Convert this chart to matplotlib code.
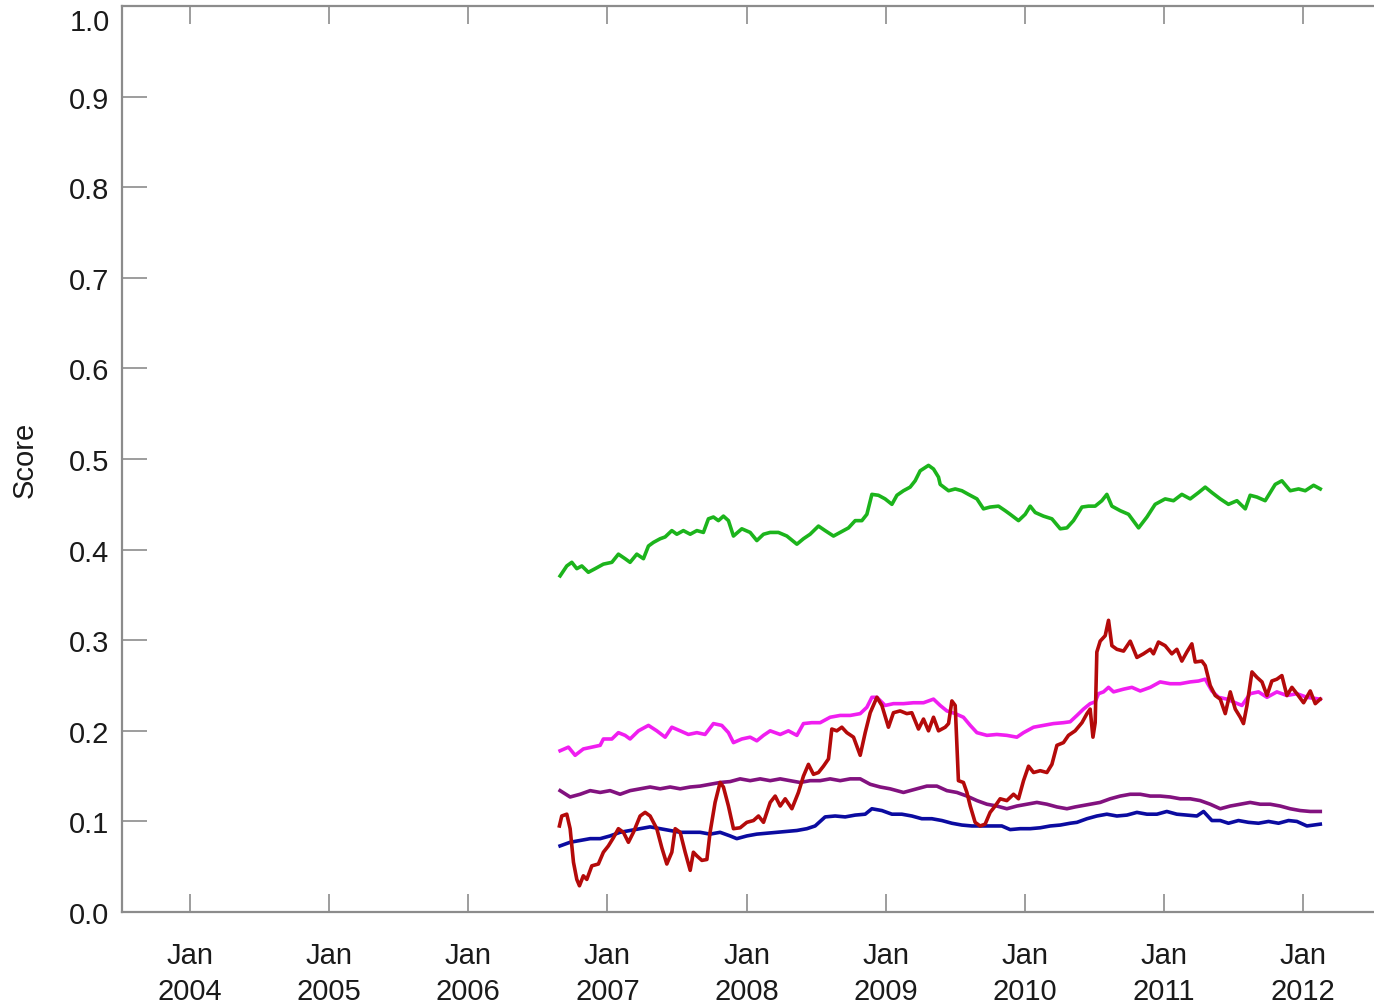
import matplotlib
matplotlib.use("Agg")
import matplotlib.pyplot as plt
from matplotlib.transforms import ScaledTranslation

plt.rcParams["font.family"] = ["Liberation Sans", "DejaVu Sans"]

# Decimal-year time stamps and scores for each series
green_t = [2006.660, 2006.708, 2006.744, 2006.780, 2006.816, 2006.863, 2006.912, 2006.971,
           2007.032, 2007.079, 2007.127, 2007.163, 2007.211, 2007.259, 2007.295, 2007.331,
           2007.379, 2007.415, 2007.463, 2007.499, 2007.546, 2007.595, 2007.643, 2007.690,
           2007.726, 2007.762, 2007.798, 2007.834, 2007.870, 2007.906, 2007.966, 2008.026,
           2008.074, 2008.122, 2008.170, 2008.229, 2008.290, 2008.362, 2008.409, 2008.457,
           2008.517, 2008.565, 2008.625, 2008.673, 2008.733, 2008.781, 2008.829, 2008.865,
           2008.901, 2008.948, 2008.996, 2009.045, 2009.081, 2009.128, 2009.176, 2009.212,
           2009.248, 2009.308, 2009.344, 2009.380, 2009.392, 2009.452, 2009.500, 2009.548,
           2009.595, 2009.656, 2009.703, 2009.751, 2009.811, 2009.859, 2009.895, 2009.955,
           2010.003, 2010.039, 2010.075, 2010.134, 2010.195, 2010.255, 2010.303, 2010.350,
           2010.411, 2010.458, 2010.506, 2010.554, 2010.590, 2010.626, 2010.686, 2010.746,
           2010.818, 2010.878, 2010.937, 2011.009, 2011.069, 2011.129, 2011.189, 2011.249,
           2011.297, 2011.345, 2011.405, 2011.464, 2011.525, 2011.585, 2011.620, 2011.669,
           2011.728, 2011.800, 2011.848, 2011.908, 2011.968, 2012.016, 2012.076, 2012.124]
green_v = [0.371, 0.382, 0.386, 0.379, 0.382, 0.375, 0.379, 0.384,
           0.386, 0.395, 0.390, 0.386, 0.395, 0.390, 0.404, 0.408,
           0.412, 0.414, 0.421, 0.417, 0.421, 0.417, 0.421, 0.419,
           0.434, 0.436, 0.432, 0.437, 0.432, 0.415, 0.423, 0.419,
           0.410, 0.417, 0.419, 0.419, 0.415, 0.406, 0.412, 0.417,
           0.426, 0.421, 0.415, 0.419, 0.424, 0.432, 0.432, 0.439,
           0.461, 0.460, 0.456, 0.450, 0.460, 0.465, 0.469, 0.476,
           0.487, 0.493, 0.489, 0.480, 0.472, 0.465, 0.467, 0.465,
           0.461, 0.456, 0.445, 0.447, 0.448, 0.443, 0.439, 0.432,
           0.439, 0.448, 0.441, 0.437, 0.434, 0.423, 0.424, 0.432,
           0.447, 0.448, 0.448, 0.454, 0.461, 0.448, 0.443, 0.439,
           0.424, 0.436, 0.450, 0.456, 0.454, 0.461, 0.456, 0.463,
           0.469, 0.463, 0.456, 0.450, 0.454, 0.445, 0.460, 0.458,
           0.454, 0.472, 0.476, 0.465, 0.467, 0.465, 0.471, 0.467]

magenta_t = [2006.660, 2006.720, 2006.768, 2006.827, 2006.888, 2006.948, 2006.971, 2007.032,
             2007.079, 2007.127, 2007.163, 2007.223, 2007.295, 2007.355, 2007.415, 2007.463,
             2007.523, 2007.582, 2007.643, 2007.702, 2007.762, 2007.822, 2007.870, 2007.906,
             2007.966, 2008.026, 2008.074, 2008.122, 2008.170, 2008.242, 2008.301, 2008.362,
             2008.409, 2008.469, 2008.529, 2008.601, 2008.673, 2008.745, 2008.817, 2008.865,
             2008.901, 2008.937, 2008.996, 2009.056, 2009.128, 2009.200, 2009.272, 2009.344,
             2009.392, 2009.440, 2009.500, 2009.559, 2009.608, 2009.656, 2009.728, 2009.799,
             2009.871, 2009.943, 2009.991, 2010.063, 2010.134, 2010.206, 2010.278, 2010.326,
             2010.375, 2010.422, 2010.470, 2010.506, 2010.530, 2010.566, 2010.602, 2010.638,
             2010.710, 2010.770, 2010.830, 2010.902, 2010.973, 2011.045, 2011.117, 2011.189,
             2011.249, 2011.297, 2011.345, 2011.393, 2011.453, 2011.513, 2011.561, 2011.620,
             2011.680, 2011.741, 2011.812, 2011.884, 2011.956, 2012.028, 2012.124]
magenta_v = [0.178, 0.182, 0.173, 0.180, 0.182, 0.184, 0.191, 0.191,
             0.198, 0.195, 0.191, 0.200, 0.206, 0.200, 0.193, 0.204,
             0.200, 0.196, 0.198, 0.196, 0.208, 0.206, 0.198, 0.187,
             0.191, 0.193, 0.189, 0.195, 0.200, 0.196, 0.200, 0.195,
             0.208, 0.209, 0.209, 0.215, 0.217, 0.217, 0.219, 0.226,
             0.237, 0.237, 0.228, 0.230, 0.230, 0.231, 0.231, 0.235,
             0.228, 0.222, 0.219, 0.215, 0.206, 0.198, 0.195, 0.196,
             0.195, 0.193, 0.198, 0.204, 0.206, 0.208, 0.209, 0.210,
             0.217, 0.224, 0.230, 0.232, 0.241, 0.243, 0.248, 0.243,
             0.246, 0.248, 0.244, 0.248, 0.254, 0.252, 0.252, 0.254,
             0.255, 0.257, 0.244, 0.237, 0.235, 0.231, 0.228, 0.241,
             0.243, 0.237, 0.243, 0.239, 0.241, 0.237, 0.235]

purple_t = [2006.660, 2006.732, 2006.804, 2006.876, 2006.948, 2007.019, 2007.091, 2007.163,
            2007.235, 2007.307, 2007.379, 2007.451, 2007.523, 2007.595, 2007.666, 2007.738,
            2007.810, 2007.882, 2007.954, 2008.026, 2008.098, 2008.170, 2008.242, 2008.313,
            2008.385, 2008.457, 2008.529, 2008.601, 2008.673, 2008.745, 2008.817, 2008.889,
            2008.961, 2009.032, 2009.128, 2009.224, 2009.296, 2009.368, 2009.440, 2009.512,
            2009.584, 2009.656, 2009.728, 2009.799, 2009.871, 2009.943, 2010.015, 2010.087,
            2010.159, 2010.231, 2010.303, 2010.362, 2010.398, 2010.470, 2010.542, 2010.614,
            2010.686, 2010.758, 2010.830, 2010.902, 2010.973, 2011.045, 2011.117, 2011.189,
            2011.261, 2011.333, 2011.405, 2011.477, 2011.549, 2011.620, 2011.692, 2011.764,
            2011.836, 2011.908, 2011.980, 2012.052, 2012.124]
purple_v = [0.134, 0.127, 0.130, 0.134, 0.132, 0.134, 0.130, 0.134,
            0.136, 0.138, 0.136, 0.138, 0.136, 0.138, 0.139, 0.141,
            0.143, 0.144, 0.147, 0.145, 0.147, 0.145, 0.147, 0.145,
            0.143, 0.145, 0.145, 0.147, 0.145, 0.147, 0.147, 0.141,
            0.138, 0.136, 0.132, 0.136, 0.139, 0.139, 0.134, 0.132,
            0.128, 0.123, 0.119, 0.117, 0.114, 0.117, 0.119, 0.121,
            0.119, 0.116, 0.114, 0.116, 0.117, 0.119, 0.121, 0.125,
            0.128, 0.130, 0.130, 0.128, 0.128, 0.127, 0.125, 0.125,
            0.123, 0.119, 0.114, 0.117, 0.119, 0.121, 0.119, 0.119,
            0.117, 0.114, 0.112, 0.111, 0.111]

blue_t = [2006.660, 2006.732, 2006.804, 2006.876, 2006.948, 2007.019, 2007.091, 2007.163,
          2007.235, 2007.307, 2007.379, 2007.451, 2007.523, 2007.595, 2007.666, 2007.738,
          2007.810, 2007.882, 2007.930, 2008.002, 2008.074, 2008.146, 2008.218, 2008.290,
          2008.362, 2008.434, 2008.493, 2008.565, 2008.637, 2008.709, 2008.781, 2008.853,
          2008.901, 2008.973, 2009.045, 2009.116, 2009.188, 2009.260, 2009.332, 2009.404,
          2009.476, 2009.548, 2009.620, 2009.692, 2009.763, 2009.835, 2009.895, 2009.967,
          2010.039, 2010.111, 2010.183, 2010.255, 2010.326, 2010.375, 2010.447, 2010.518,
          2010.590, 2010.662, 2010.734, 2010.806, 2010.878, 2010.950, 2011.021, 2011.093,
          2011.165, 2011.237, 2011.285, 2011.345, 2011.405, 2011.464, 2011.536, 2011.608,
          2011.680, 2011.752, 2011.824, 2011.896, 2011.956, 2012.028, 2012.124]
blue_v = [0.073, 0.077, 0.079, 0.081, 0.081, 0.084, 0.088, 0.090,
          0.092, 0.094, 0.092, 0.090, 0.088, 0.088, 0.088, 0.086,
          0.088, 0.084, 0.081, 0.084, 0.086, 0.087, 0.088, 0.089,
          0.090, 0.092, 0.095, 0.105, 0.106, 0.105, 0.107, 0.108,
          0.114, 0.112, 0.108, 0.108, 0.106, 0.103, 0.103, 0.101,
          0.098, 0.096, 0.095, 0.095, 0.095, 0.095, 0.091, 0.092,
          0.092, 0.093, 0.095, 0.096, 0.098, 0.099, 0.103, 0.106,
          0.108, 0.106, 0.107, 0.110, 0.108, 0.108, 0.111, 0.108,
          0.107, 0.106, 0.111, 0.101, 0.101, 0.098, 0.101, 0.099,
          0.098, 0.100, 0.098, 0.101, 0.100, 0.095, 0.097]

red_t = [2006.655, 2006.672, 2006.708, 2006.732, 2006.756, 2006.780, 2006.799, 2006.827,
         2006.852, 2006.888, 2006.935, 2006.971, 2007.007, 2007.043, 2007.079, 2007.115,
         2007.151, 2007.187, 2007.235, 2007.271, 2007.307, 2007.355, 2007.391, 2007.427,
         2007.463, 2007.487, 2007.523, 2007.559, 2007.595, 2007.618, 2007.643, 2007.679,
         2007.715, 2007.738, 2007.774, 2007.810, 2007.834, 2007.870, 2007.906, 2007.954,
         2008.002, 2008.050, 2008.086, 2008.122, 2008.170, 2008.206, 2008.242, 2008.278,
         2008.326, 2008.373, 2008.409, 2008.445, 2008.481, 2008.517, 2008.553, 2008.589,
         2008.613, 2008.649, 2008.685, 2008.721, 2008.769, 2008.817, 2008.853, 2008.889,
         2008.937, 2008.973, 2009.020, 2009.056, 2009.104, 2009.152, 2009.188, 2009.236,
         2009.272, 2009.308, 2009.344, 2009.380, 2009.428, 2009.452, 2009.476, 2009.500,
         2009.523, 2009.559, 2009.584, 2009.608, 2009.643, 2009.679, 2009.715, 2009.751,
         2009.787, 2009.823, 2009.871, 2009.919, 2009.955, 2009.991, 2010.027, 2010.063,
         2010.111, 2010.159, 2010.195, 2010.231, 2010.278, 2010.314, 2010.362, 2010.411,
         2010.447, 2010.470, 2010.490, 2010.506, 2010.518, 2010.542, 2010.578, 2010.602,
         2010.626, 2010.662, 2010.710, 2010.758, 2010.806, 2010.853, 2010.902, 2010.925,
         2010.961, 2011.009, 2011.057, 2011.093, 2011.129, 2011.165, 2011.201, 2011.225,
         2011.273, 2011.297, 2011.333, 2011.369, 2011.405, 2011.441, 2011.477, 2011.513,
         2011.549, 2011.572, 2011.597, 2011.633, 2011.669, 2011.705, 2011.741, 2011.776,
         2011.812, 2011.848, 2011.884, 2011.920, 2011.956, 2012.004, 2012.052, 2012.088,
         2012.124]
red_v = [0.095, 0.106, 0.108, 0.092, 0.055, 0.036, 0.029, 0.040,
         0.036, 0.051, 0.053, 0.066, 0.073, 0.082, 0.092, 0.088,
         0.077, 0.088, 0.106, 0.110, 0.106, 0.092, 0.071, 0.053,
         0.066, 0.092, 0.088, 0.066, 0.046, 0.066, 0.062, 0.057,
         0.058, 0.088, 0.121, 0.143, 0.138, 0.117, 0.092, 0.093,
         0.099, 0.101, 0.106, 0.099, 0.121, 0.128, 0.117, 0.125,
         0.114, 0.132, 0.150, 0.163, 0.152, 0.154, 0.161, 0.169,
         0.202, 0.200, 0.204, 0.198, 0.193, 0.173, 0.198, 0.220,
         0.237, 0.228, 0.204, 0.220, 0.222, 0.219, 0.220, 0.202,
         0.213, 0.200, 0.215, 0.200, 0.204, 0.208, 0.233, 0.228,
         0.145, 0.143, 0.132, 0.117, 0.099, 0.095, 0.097, 0.110,
         0.117, 0.125, 0.123, 0.130, 0.125, 0.145, 0.161, 0.154,
         0.156, 0.154, 0.163, 0.184, 0.187, 0.195, 0.200, 0.209,
         0.219, 0.224, 0.193, 0.209, 0.287, 0.299, 0.305, 0.322,
         0.294, 0.290, 0.288, 0.299, 0.281, 0.285, 0.290, 0.285,
         0.298, 0.294, 0.285, 0.290, 0.277, 0.287, 0.296, 0.276,
         0.277, 0.272, 0.250, 0.239, 0.235, 0.219, 0.243, 0.224,
         0.215, 0.208, 0.228, 0.265, 0.259, 0.254, 0.239, 0.255,
         0.257, 0.261, 0.239, 0.248, 0.241, 0.231, 0.244, 0.230,
         0.235]

year_ticks = [2004, 2005, 2006, 2007, 2008, 2009, 2010, 2011, 2012]
y_ticks = [0.0, 0.1, 0.2, 0.3, 0.4, 0.5, 0.6, 0.7, 0.8, 0.9, 1.0]

fig = plt.figure(figsize=(13.74, 10.04), dpi=100)
ax = fig.add_axes([0.0888, 0.0906, 0.9127, 0.9024])

lw = 2.6
ax.plot(green_t, green_v, color="#1cb41c", lw=lw)
ax.plot(magenta_t, magenta_v, color="#f01ef0", lw=lw)
ax.plot(purple_t, purple_v, color="#82127f", lw=lw)
ax.plot(blue_t, blue_v, color="#0b0ba0", lw=lw)
ax.plot(red_t, red_v, color="#b40a0a", lw=lw)

ax.set_xlim(2003.511, 2012.525)
ax.set_ylim(0.0, 1.0)

ax.set_xticks(year_ticks)
ax.set_xticklabels([f"Jan\n{y}" for y in year_ticks], linespacing=1.35)
ax.set_yticks(y_ticks)
ax.set_yticklabels([f"{v:.1f}" for v in y_ticks])

spine_col = "#8c8c8c"
for side in ("left", "bottom", "top", "right"):
    ax.spines[side].set_color(spine_col)
    ax.spines[side].set_linewidth(1.6)

ax.tick_params(axis="y", direction="in", length=18, width=1.2, color=spine_col,
               pad=9, labelsize=21, labelcolor="#1a1a1a", right=False)
ax.tick_params(axis="x", direction="in", length=13, width=1.2, color=spine_col,
               pad=21, labelsize=21, labelcolor="#1a1a1a", top=True)

# keep the top label inside the canvas
top_label = ax.get_yticklabels()[-1]
top_label.set_transform(top_label.get_transform() +
                        ScaledTranslation(0, -13 / 100, fig.dpi_scale_trans))

ax.set_ylabel("Score", fontsize=21, color="#1a1a1a", labelpad=22)

fig.savefig("out.png", dpi=100, facecolor="white")
